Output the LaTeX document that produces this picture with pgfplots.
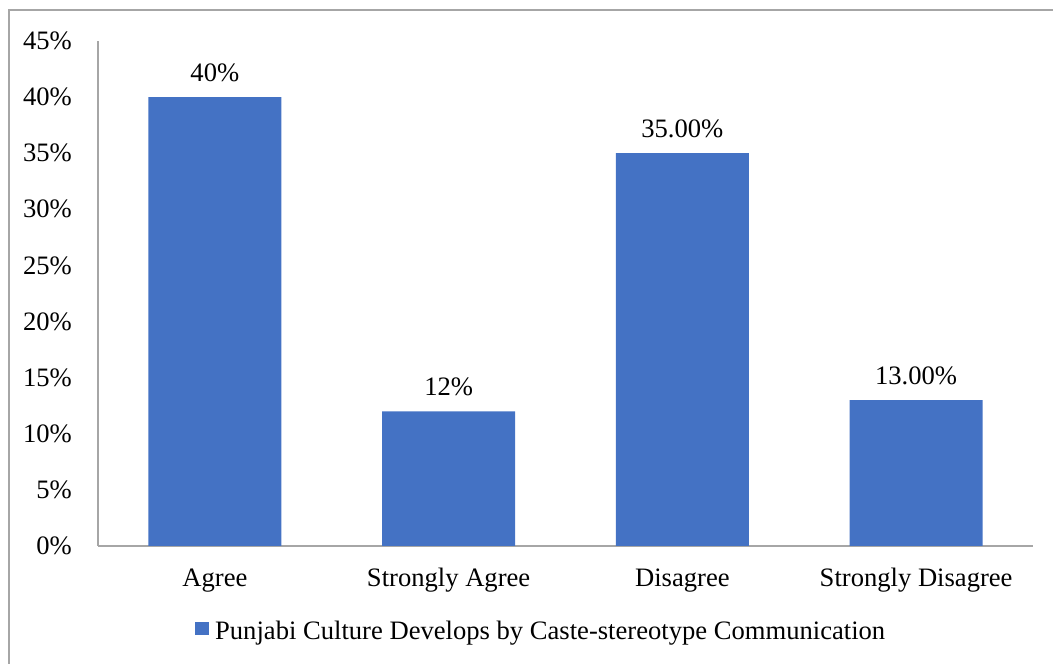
\documentclass[border=0pt]{standalone}
\usepackage{pgfplots}
\pgfplotsset{compat=1.18}
\usepackage{fontspec}
\setmainfont{Liberation Serif}
\definecolor{barblue}{HTML}{4472C4}
\definecolor{axisgray}{HTML}{A6A6A6}
\definecolor{framegray}{HTML}{A6A6A6}
\newcommand{\chartfont}{\fontsize{26.6bp}{32bp}\selectfont}

\begin{document}
\begin{tikzpicture}[x=1bp,y=1bp]
\useasboundingbox (0,0) rectangle (1053,664);
% outer chart frame
\draw[framegray, line width=1.2bp] (9,654) rectangle (1080,-30);
\begin{axis}[
  at={(98bp,118bp)}, anchor=south west,
  scale only axis, width=935bp, height=505bp,
  xmin=-0.5, xmax=3.5, ymin=0, ymax=45,
  axis x line*=bottom, axis y line*=left,
  axis line style={axisgray, line width=1.2bp},
  xtick={0,1,2,3},
  xticklabels={Agree,Strongly Agree,Disagree,Strongly Disagree},
  ytick={0,5,10,15,20,25,30,35,40,45},
  yticklabels={0\%,5\%,10\%,15\%,20\%,25\%,30\%,35\%,40\%,45\%},
  major tick length=0pt,
  tick label style={font=\chartfont, inner sep=0pt},
  yticklabel style={anchor=east, xshift=-26bp},
  xticklabel style={anchor=base, yshift=-41bp},
  legend style={draw=none, fill=none, at={(0.1037,-0.168)}, anchor=west,
    inner sep=0pt, font=\chartfont, column sep=6bp,
    nodes={inner sep=0pt}},
]
\addplot[ybar, bar width=133bp, fill=barblue, draw=none,
  nodes near coords, point meta=explicit symbolic,
  nodes near coords style={anchor=base, yshift=16bp, font=\chartfont, inner sep=0pt, text=black},
  legend image code/.code={\fill[barblue] (0bp,-4bp) rectangle (14bp,9bp);}]
  coordinates {(0,40)[40\%] (1,12)[12\%] (2,35)[35.00\%] (3,13)[13.00\%]};
\addlegendentry{Punjabi Culture Develops by Caste-stereotype Communication}
\end{axis}
\end{tikzpicture}
\end{document}
